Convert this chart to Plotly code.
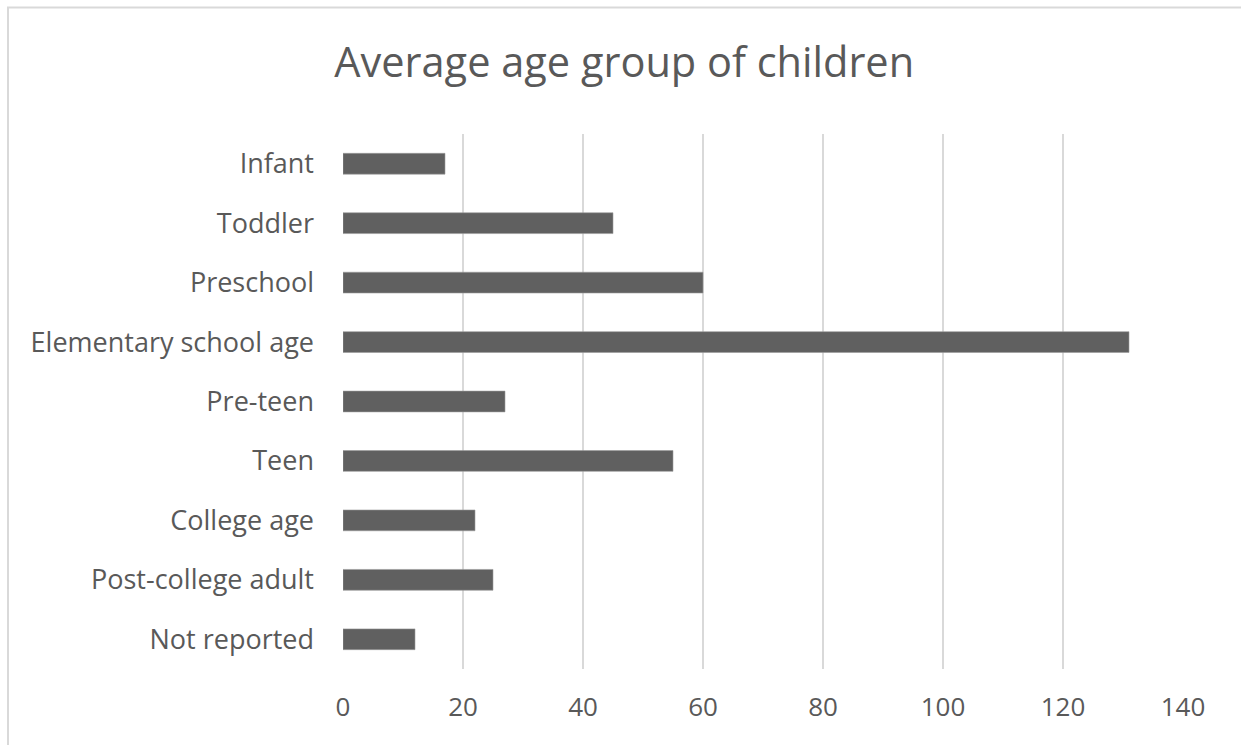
import plotly.graph_objects as go

categories = [
    "Infant",
    "Toddler",
    "Preschool",
    "Elementary school age",
    "Pre-teen",
    "Teen",
    "College age",
    "Post-college adult",
    "Not reported",
]
counts = [17, 45, 60, 131, 27, 55, 22, 25, 12]
x_ticks = [0, 20, 40, 60, 80, 100, 120, 140]

TEXT = "#595959"
FONT = "Open Sans"

fig = go.Figure(
    go.Bar(
        x=counts,
        y=categories,
        orientation="h",
        width=0.35,
        marker=dict(color="#606060", line=dict(color="#9a9a9a", width=0.6)),
    )
)

fig.update_layout(
    width=1241,
    height=745,
    margin=dict(l=343, r=58, t=133.5, b=76),
    paper_bgcolor="white",
    plot_bgcolor="white",
    showlegend=False,
    title=dict(
        text="Average age group of children",
        x=0.503,
        xref="container",
        xanchor="center",
        y=0.897,
        yref="container",
        yanchor="bottom",
        font=dict(family=FONT, size=41.5, color=TEXT),
    ),
    font=dict(family=FONT, color=TEXT),
    shapes=[
        dict(
            type="rect", xref="paper", yref="paper",
            x0=-335 / 840, x1=1.2, y0=-0.3, y1=(669 - 7) / 535.5,
            line=dict(color="#d9d9d9", width=2), layer="below",
        )
    ],
)

fig.update_xaxes(
    range=[0, 140],
    tickvals=x_ticks,
    showgrid=True,
    gridcolor="#d9d9d9",
    gridwidth=2,
    zeroline=False,
    showline=False,
    ticks="",
    ticklabelstandoff=20,
    tickfont=dict(family=FONT, size=26, color=TEXT),
)
fig.update_yaxes(
    autorange="reversed",
    showgrid=False,
    zeroline=False,
    showline=False,
    ticks="",
    ticklabelstandoff=28,
    tickfont=dict(family=FONT, size=27, color=TEXT),
)

fig.write_html("out.html")
